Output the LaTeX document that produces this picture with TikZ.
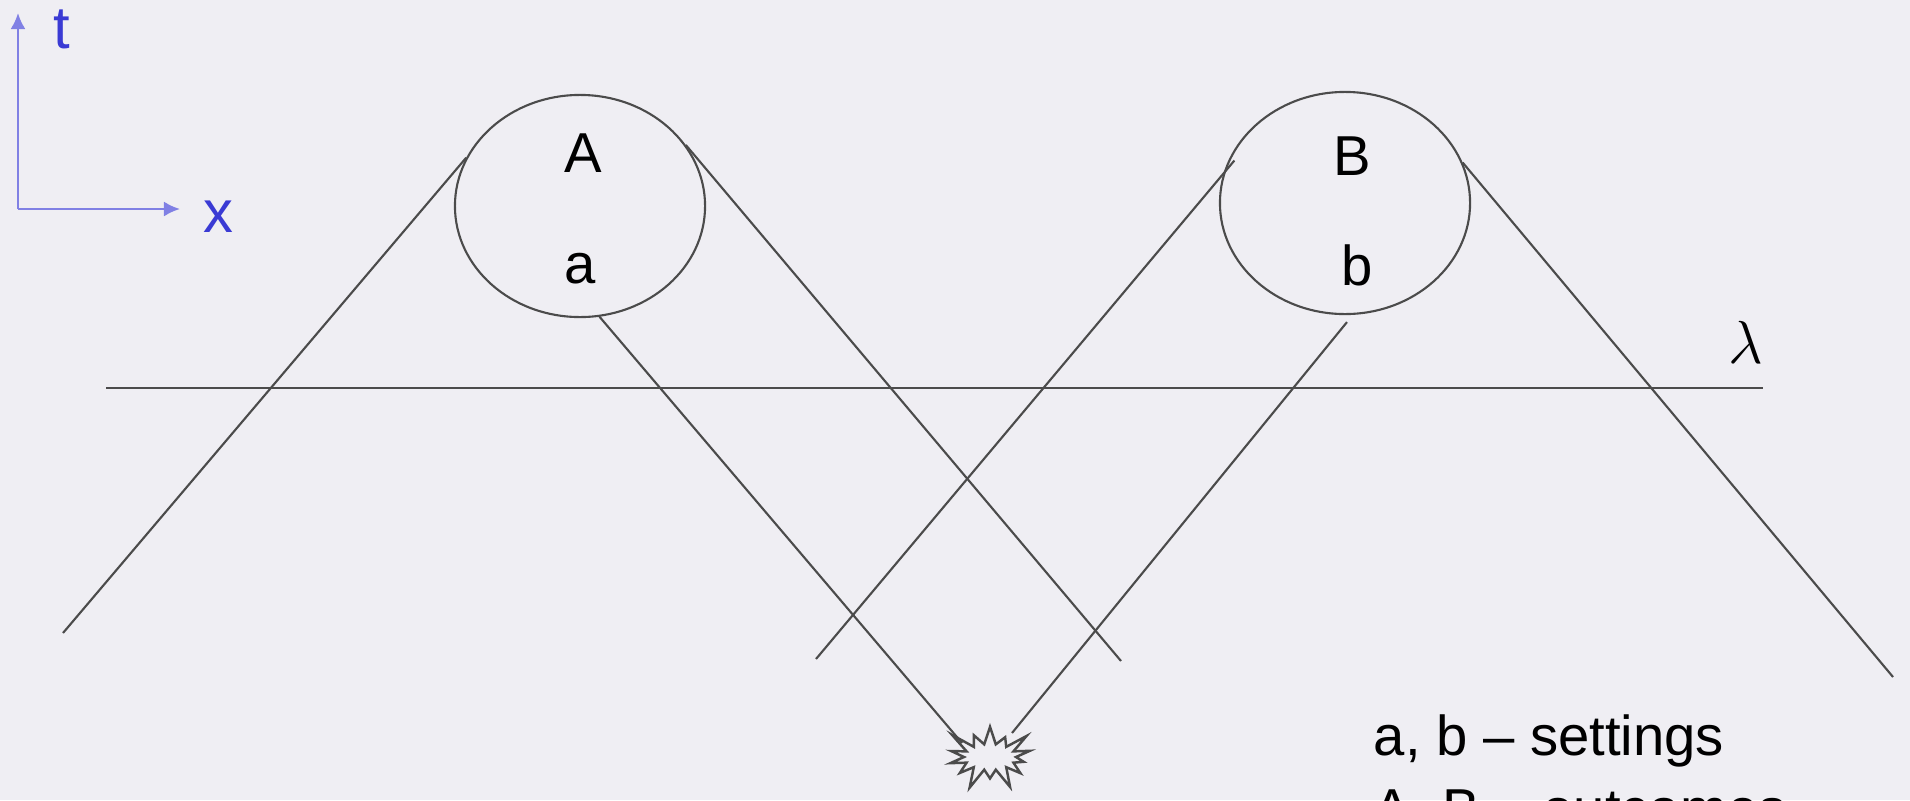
\documentclass[tikz,border=0pt]{standalone}
\usepackage{fontspec}
\setmainfont{Liberation Sans}
\usepackage{xcolor}
\usetikzlibrary{arrows.meta,positioning,shapes.geometric,shapes.symbols}

\definecolor{paper}{RGB}{239,238,243}
\definecolor{inkgray}{RGB}{75,75,75}
\definecolor{axisblue}{RGB}{128,128,228}
\definecolor{labelblue}{RGB}{58,58,212}

\begin{document}
\begin{tikzpicture}[
    x=0.01cm,
    y=-0.01cm,
    >={Latex[length=1.6mm,width=1.5mm]},
    every node/.style={font=\fontsize{16}{19}\selectfont},
    worldline/.style={draw=inkgray,line width=0.6pt},
    detector/.style={ellipse,draw=inkgray,line width=0.6pt,
        minimum width=2.5cm,minimum height=2.22cm,inner sep=0pt},
    axis/.style={->,axisblue,line width=0.7pt},
    axislabel/.style={labelblue,inner sep=0pt,font=\fontsize{17}{20}\selectfont}
]

% Frame
\fill[paper] (0,0) rectangle (1910,800);
\useasboundingbox (0,0) rectangle (1910,800);

% Axes
\coordinate (origin) at (18,209);
\coordinate (tEnd) at (18,13);
\coordinate (xEnd) at (180,209);
\draw[axis] (origin) -- (tEnd);
\draw[axis] (origin) -- (xEnd);
\node[axislabel] (tLabel) at (62,29) {t};
\node[axislabel] (xLabel) at (218,217) {x};

% Detectors
\node[detector] (detA) at (580,206) {};
\node[anchor=base,inner sep=0pt] (outA) at (583,172) {A};
\node[anchor=base,inner sep=0pt] (setA) at (580,283) {a};

\node[detector] (detB) at (1345,203) {};
\node[anchor=base,inner sep=0pt] (outB) at (1352,175) {B};
\node[anchor=base,inner sep=0pt] (setB) at (1357,285) {b};

% Hidden variable line
\coordinate (lamL) at (106,388);
\coordinate (lamR) at (1763,388);
\draw[worldline] (lamL) -- (lamR);
\node[anchor=base,inner sep=0pt,font=\fontsize{19}{22}\selectfont]
    (lam) at (1746,363) {$\lambda$};

% Source
\node[starburst,draw=inkgray,line width=0.7pt,
    minimum width=1.0cm,minimum height=0.74cm,
    starburst points=14,starburst point height=0.24cm,
    inner sep=0pt] (bang) at (990,757) {};
\coordinate (hitA) at (962,743);
\coordinate (hitB) at (1012,733);

% Light cones
\coordinate (endA1) at (63,633);
\coordinate (endA2) at (1121,661);
\coordinate (endB1) at (816,659);
\coordinate (endB2) at (1893,677);
\draw[worldline] (detA.157) -- (endA1);
\draw[worldline] (detA.30) -- (endA2);
\draw[worldline] (detA.-80) -- (hitA);
\draw[worldline] (detB.-89) ++(0,7) -- (hitB);
\draw[worldline] ([shift={(7,-2)}]detB.161) -- (endB1);
\draw[worldline] (detB.19) -- (endB2);

% Legend
\node[anchor=base west,inner sep=0pt] (legSet) at (1373,755) {a, b – settings};
\node[anchor=base west,inner sep=0pt] (legOut) at (1373,828) {A, B – outcomes};

\end{tikzpicture}
\end{document}
